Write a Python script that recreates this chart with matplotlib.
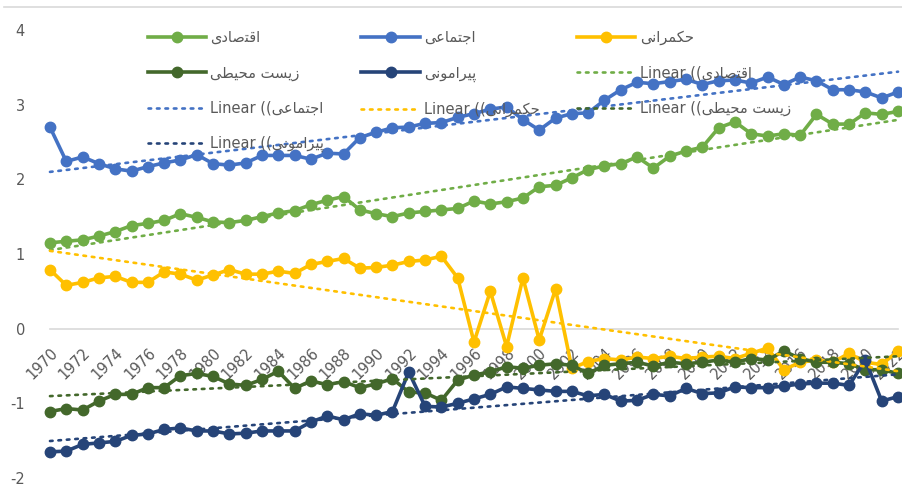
import matplotlib
matplotlib.use("Agg")
import matplotlib.pyplot as plt
import numpy as np
from matplotlib.lines import Line2D

# years on the category axis
years = list(range(1970, 2023))
tick_years = years[::2]

# Persian names, already shaped and in visual order (matplotlib has no bidi)
name_econ = "\uFBFC\uFEA9\uFE8E\uFEBB\uFE98\uFED7\uFE8D"        # اقتصادی
name_social = "\uFBFD\uFECB\uFE8E\uFEE4\uFE98\uFE9F\uFE8D"      # اجتماعی
name_gov = "\uFBFD\uFEE7\uFE8D\uFEAE\uFEE4\uFB91\uFEA3"         # حکمرانی
name_env = "\uFBFD\uFEC4\uFBFF\uFEA4\uFEE3 \uFE96\uFEB4\uFBFE\uFEAF"  # زیست محیطی
name_pol = "\uFBFD\uFEE7\uFEEE\uFEE3\uFE8D\uFEAE\uFBFF\uFB58"   # پیرامونی

econ = [1.15, 1.17, 1.19, 1.24, 1.30, 1.38, 1.41, 1.45, 1.54, 1.49,
        1.43, 1.42, 1.45, 1.50, 1.55, 1.58, 1.66, 1.72, 1.77, 1.59,
        1.54, 1.50, 1.55, 1.57, 1.59, 1.61, 1.71, 1.67, 1.70, 1.75,
        1.90, 1.92, 2.02, 2.13, 2.18, 2.21, 2.30, 2.15, 2.31, 2.38,
        2.43, 2.69, 2.77, 2.61, 2.58, 2.61, 2.59, 2.87, 2.74, 2.74,
        2.89, 2.87, 2.91]
social = [2.70, 2.24, 2.30, 2.21, 2.14, 2.11, 2.17, 2.22, 2.26, 2.33,
          2.21, 2.19, 2.22, 2.32, 2.32, 2.32, 2.27, 2.35, 2.34, 2.56,
          2.63, 2.69, 2.70, 2.75, 2.76, 2.83, 2.88, 2.94, 2.97, 2.80,
          2.66, 2.82, 2.88, 2.89, 3.06, 3.20, 3.30, 3.28, 3.31, 3.34,
          3.27, 3.32, 3.33, 3.29, 3.37, 3.27, 3.37, 3.32, 3.20, 3.20,
          3.17, 3.09, 3.17]
gov = [0.79, 0.58, 0.62, 0.68, 0.70, 0.62, 0.62, 0.76, 0.73, 0.65,
       0.72, 0.79, 0.73, 0.73, 0.77, 0.74, 0.86, 0.90, 0.94, 0.81,
       0.82, 0.85, 0.90, 0.92, 0.97, 0.68, -0.18, 0.50, -0.24, 0.68,
       -0.15, 0.53, -0.53, -0.44, -0.40, -0.42, -0.38, -0.40, -0.37, -0.40,
       -0.38, -0.37, -0.40, -0.33, -0.26, -0.55, -0.45, -0.42, -0.45, -0.33,
       -0.45, -0.48, -0.30]
env = [-1.11, -1.07, -1.09, -0.97, -0.88, -0.88, -0.79, -0.79, -0.63, -0.60,
       -0.64, -0.74, -0.76, -0.68, -0.57, -0.80, -0.70, -0.75, -0.71, -0.79,
       -0.74, -0.67, -0.85, -0.86, -0.96, -0.69, -0.62, -0.58, -0.51, -0.53,
       -0.49, -0.47, -0.49, -0.60, -0.49, -0.47, -0.45, -0.50, -0.45, -0.47,
       -0.45, -0.42, -0.45, -0.40, -0.42, -0.30, -0.40, -0.45, -0.45, -0.47,
       -0.55, -0.55, -0.60]
pol = [-1.65, -1.64, -1.55, -1.53, -1.51, -1.43, -1.41, -1.35, -1.33, -1.37,
       -1.37, -1.41, -1.40, -1.37, -1.37, -1.37, -1.25, -1.17, -1.22, -1.14,
       -1.16, -1.11, -0.58, -1.04, -1.05, -1.00, -0.94, -0.88, -0.78, -0.80,
       -0.82, -0.84, -0.84, -0.90, -0.88, -0.97, -0.96, -0.88, -0.90, -0.80,
       -0.87, -0.86, -0.78, -0.79, -0.79, -0.77, -0.74, -0.73, -0.73, -0.76,
       -0.42, -0.97, -0.91]

series = [(name_econ, econ, "#70AD47"),
          (name_social, social, "#4472C4"),
          (name_gov, gov, "#FFC000"),
          (name_env, env, "#43682B"),
          (name_pol, pol, "#264478")]

plt.rcParams['font.family'] = ['DejaVu Sans']
plt.rcParams['axes.unicode_minus'] = False
fig = plt.figure(figsize=(9.02, 4.87), dpi=100)
ax = fig.add_axes([0.0554, 0.0185, 0.9402, 0.9199])

# axis line through zero first (moving the spine resets the ticks)
for s in ['left', 'right', 'top']:
    ax.spines[s].set_visible(False)
ax.spines['bottom'].set_position(('data', 0))
ax.spines['bottom'].set_color('#D9D9D9')
ax.spines['bottom'].set_linewidth(1.2)
ax.spines['bottom'].set_zorder(1)

x = np.array(years)
handles = []
for name, vals, col in series:
    h, = ax.plot(x, vals, color=col, lw=2.6, marker='o', ms=7.5, label=name,
                 solid_joinstyle='round', zorder=2, clip_on=False)
    handles.append(h)

trend_handles = []
for name, vals, col in series:
    k, b = np.polyfit(x, vals, 1)
    h, = ax.plot(x, k * x + b, color=col, lw=1.9, linestyle=(0, (1, 2.2)),
                 dash_capstyle='round', label="Linear ((" + name, zorder=3,
                 clip_on=False)
    trend_handles.append(h)

ax.set_xlim(1970, 2022)
ax.set_ylim(-2, 4)
ax.set_yticks(range(-2, 5))
ax.set_xticks(tick_years)
ax.tick_params(axis='both', length=0, colors='#595959', labelsize=10.5)
ax.tick_params(axis='y', pad=18)
ax.tick_params(axis='x', pad=12)
ax.set_xticklabels([str(t) for t in tick_years])
for lab in ax.get_xticklabels():
    lab.set_rotation(45)
    lab.set_ha('right')
    lab.set_va('top')
    lab.set_rotation_mode('anchor')

# legend is row-major in the original: reorder for matplotlib's column fill
allh = handles + trend_handles
order = [0, 3, 6, 9, 1, 4, 7, 2, 5, 8]
legh = [allh[i] for i in order]
leg = fig.legend(handles=legh, labels=[h.get_label() for h in legh], ncol=3,
                 loc='upper left', bbox_to_anchor=(0.149, 0.965), frameon=False,
                 fontsize=10.5, handlelength=4.0, handletextpad=0.3,
                 columnspacing=2.55, labelspacing=1.38, labelcolor='#595959')
leg.set_zorder(1)

# thin chart-area border on top
fig.add_artist(Line2D([0.004, 1.0], [0.985, 0.985], transform=fig.transFigure,
                      color='#D9D9D9', lw=1.2))

fig.savefig("out.png", dpi=100)
